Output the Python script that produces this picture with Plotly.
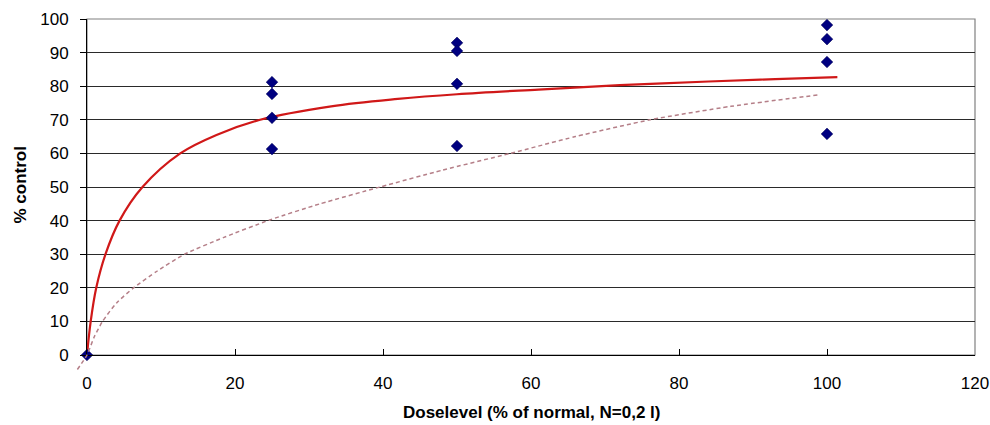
import plotly.graph_objects as go

# ---- data ----
dose_points = [0, 25, 25, 25, 25, 50, 50, 50, 50, 100, 100, 100, 100]
control_points = [0, 81.2, 77.7, 70.6, 61.3, 92.9, 90.5, 80.7, 62.2, 98.2, 94.0, 87.2, 65.8]

fit_solid_x = [0, 0.5, 1.25, 2.5, 4.4, 7.5, 12.6, 17.5, 23.4, 33, 42, 50, 61, 72, 84, 93, 101.4]
fit_solid_y = [0, 10, 20, 30, 40, 50, 60, 65.5, 70, 74.0, 76.2, 77.6, 79.0, 80.3, 81.4, 82.1, 82.7]

fit_dash_x = [-1.3, 0, 1.0, 2.1, 4.0, 6.3, 9.5, 13.2, 18.5, 24.7, 31.5, 39.6, 48, 57.2, 66, 76.1, 87, 98.8]
fit_dash_y = [-4.3, 0, 5.5, 10, 15.5, 20, 25, 30, 35, 40.2, 45, 50, 55, 60, 65, 70, 74, 77.4]

x_ticks = [0, 20, 40, 60, 80, 100, 120]
y_ticks = [0, 10, 20, 30, 40, 50, 60, 70, 80, 90, 100]

# ---- layout geometry (pixels) ----
W, H = 990, 425
ML, MR, MT, MB = 70, 15, 10, 50
PX0, PX1 = 87, 975      # main plot x pixels (x=0 .. 120)
PY0, PY1 = 355, 19      # main plot y pixels (y=0 .. 100)
pw = W - ML - MR
ph = H - MT - MB
xr = (0, 120)
yr = (0, 100)
px_per_x = (PX1 - PX0) / (xr[1] - xr[0])
px_per_y = (PY0 - PY1) / (yr[1] - yr[0])

main_xdom = [(PX0 - ML) / pw, 1]
main_ydom = [(H - MB - PY0) / ph, (H - MB - PY1) / ph]
ov_xdom = [0, 1]
ov_ydom = [0, main_ydom[1]]
ov_xr = [xr[0] - (PX0 - ML) / px_per_x, xr[1]]
ov_yr = [yr[0] - (H - MB - PY0) / px_per_y, yr[1]]

font_family = "Liberation Sans, Arial, sans-serif"

fig = go.Figure()

fig.add_trace(go.Scatter(
    x=fit_dash_x, y=fit_dash_y, xaxis="x2", yaxis="y2",
    mode="lines", line=dict(color="#b57f88", width=1.5, dash="4px,3px", shape="spline", smoothing=0.6),
    hoverinfo="skip", showlegend=False))

fig.add_trace(go.Scatter(
    x=fit_solid_x, y=fit_solid_y,
    mode="lines", line=dict(color="#d01818", width=2.2, shape="spline", smoothing=1.0),
    hoverinfo="skip", showlegend=False))

fig.add_trace(go.Scatter(
    x=dose_points, y=control_points, mode="markers",
    marker=dict(symbol="diamond", size=9, color="#000080", line=dict(color="#000050", width=0.5)),
    cliponaxis=False, showlegend=False))

fig.update_layout(
    width=W, height=H,
    margin=dict(l=ML, r=MR, t=MT, b=MB),
    paper_bgcolor="white", plot_bgcolor="rgba(0,0,0,0)",
    font=dict(family=font_family, size=17, color="black"),
    xaxis=dict(domain=main_xdom, range=list(xr), tickvals=x_ticks, ticks="inside", ticklen=6,
               tickcolor="black", showline=True, linecolor="black", linewidth=1,
               showgrid=False, zeroline=False, ticklabelstandoff=13, automargin=False,
               tickfont=dict(size=17)),
    yaxis=dict(domain=main_ydom, range=list(yr), tickvals=y_ticks, ticks="outside", ticklen=6,
               tickcolor="black", showline=True, linecolor="black", linewidth=1,
               showgrid=True, gridcolor="#2a2a2a", gridwidth=1, zeroline=False,
               ticklabelstandoff=8, automargin=False, tickfont=dict(size=17)),
    xaxis2=dict(domain=ov_xdom, range=ov_xr, anchor="y2", visible=False, automargin=False),
    yaxis2=dict(domain=ov_ydom, range=ov_yr, anchor="x2", visible=False, automargin=False),
    shapes=[dict(type="rect", xref="x domain", yref="y domain", x0=0, x1=1, y0=0, y1=1,
                 line=dict(color="#808080", width=1.2), layer="below")],
    annotations=[
        dict(text="<b>Doselevel (% of normal, N=0,2 l)</b>", xref="x domain", yref="y domain",
             x=0.5, y=0, yanchor="middle", xanchor="center", yshift=-(412 - PY0), showarrow=False,
             font=dict(size=17)),
        dict(text="<b>% control</b>", xref="x domain", yref="y domain",
             x=0, y=(PY0 - 185.5) / (PY0 - PY1), xanchor="center", yanchor="middle",
             xshift=-(PX0 - 20), textangle=-90, showarrow=False, font=dict(size=17)),
    ],
)

fig.write_html("out.html", config={"displayModeBar": False},
               post_script="document.body.style.margin='0';document.body.style.overflow='hidden';")
